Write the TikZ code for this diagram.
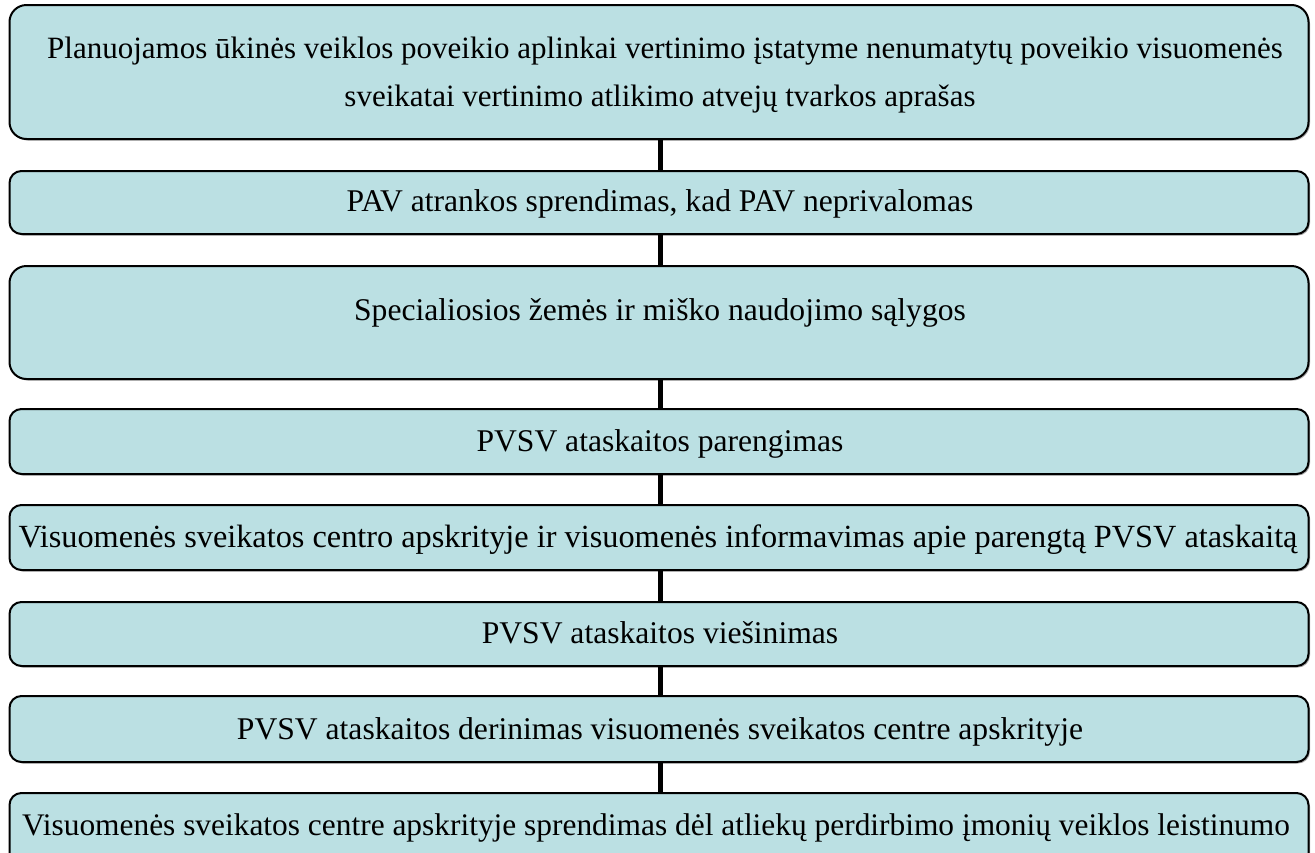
\documentclass[tikz,border=0pt]{standalone}
\usepackage{fontspec}
\setmainfont{Liberation Serif}
\definecolor{boxfill}{RGB}{187,224,227}
\definecolor{shadowgray}{RGB}{170,170,170}
\tikzset{
  x=1pt, y=-1pt,
  stagebox/.style={draw=black, line width=2pt, fill=boxfill, inner sep=0pt, rounded corners=#1},
  stagebox/.default=12pt,
  boxshadow/.style={fill=shadowgray, rounded corners=#1},
  boxshadow/.default=12pt,
  stagetext/.style={anchor=base, font=\fontsize{#1}{48}\selectfont, inner sep=0pt},
  stagetext/.default=31.6,
  link/.style={line width=5pt, draw=black}
}
\newcommand{\stage}[5]{%
  \fill[boxshadow=#4] (11,#2+1.5) rectangle (1310,#3+1.5);
  \path[stagebox=#4] (9.5,#2) rectangle (1308.5,#3);
  \coordinate (#1top) at (660.5,#2);
  \coordinate (#1bot) at (660.5,#3);
}
\begin{document}
\begin{tikzpicture}
\useasboundingbox (0,0) rectangle (1315,852);
\clip (0,0) rectangle (1315,852);
\stage{b1}{5}{139}{17pt}{}
\stage{b2}{171}{234}{12pt}{}
\stage{b3}{266}{379}{17pt}{}
\stage{b4}{409}{474}{12pt}{}
\stage{b5}{505}{570}{12pt}{}
\stage{b6}{602}{666}{12pt}{}
\stage{b7}{696}{762}{12pt}{}
\stage{b8}{793}{900}{12pt}{}
\node[stagetext=31] (t1a) at (665,58) {Planuojamos ūkinės veiklos poveikio aplinkai vertinimo įstatyme nenumatytų poveikio visuomenės};
\node[stagetext=31] (t1b) at (660,106) {sveikatai vertinimo atlikimo atvejų tvarkos aprašas};
\node[stagetext] (t2) at (660,211) {PAV atrankos sprendimas, kad PAV neprivalomas};
\node[stagetext] (t3) at (660,320) {Specialiosios žemės ir miško naudojimo sąlygos};
\node[stagetext] (t4) at (660,451) {PVSV ataskaitos parengimas};
\node[stagetext=32.3] (t5) at (658,547) {Visuomenės sveikatos centro apskrityje ir visuomenės informavimas apie parengtą PVSV ataskaitą};
\node[stagetext] (t6) at (660,643) {PVSV ataskaitos viešinimas};
\node[stagetext] (t7) at (660,739) {PVSV ataskaitos derinimas visuomenės sveikatos centre apskrityje};
\node[stagetext=31.4] (t8) at (656,835) {Visuomenės sveikatos centre apskrityje sprendimas dėl atliekų perdirbimo įmonių veiklos leistinumo};
\draw[link] (b1bot) -- (b2top);
\draw[link] (b2bot) -- (b3top);
\draw[link] (b3bot) -- (b4top);
\draw[link] (b4bot) -- (b5top);
\draw[link] (b5bot) -- (b6top);
\draw[link] (b6bot) -- (b7top);
\draw[link] (b7bot) -- (b8top);
\end{tikzpicture}
\end{document}
